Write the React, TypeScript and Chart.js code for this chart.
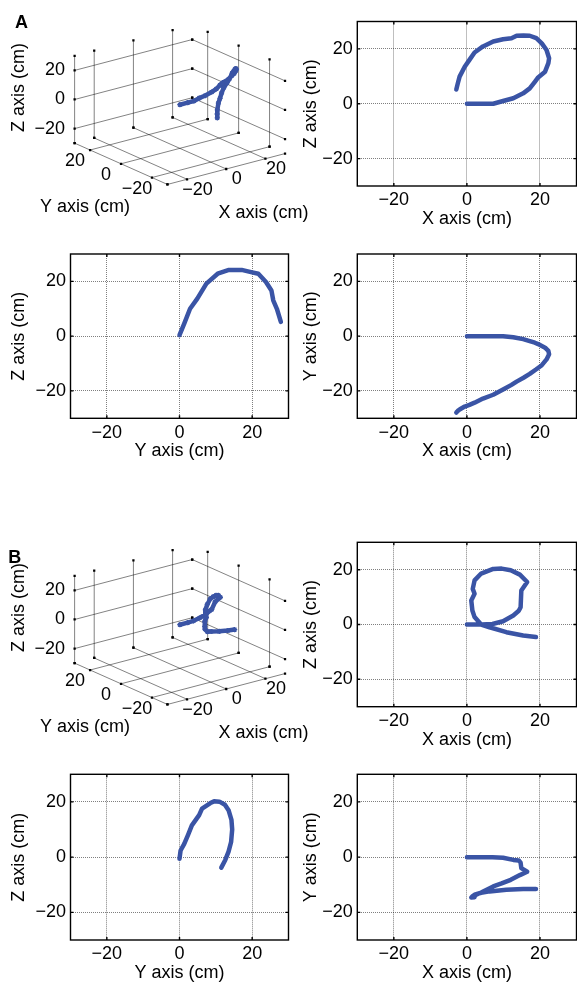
import React, { useEffect, useRef } from 'react';
import { Chart, registerables } from 'chart.js';

Chart.register(...registerables);

const FONT = '"Liberation Sans", Arial, Helvetica, sans-serif';
const FONT_SIZE = 18;
Chart.defaults.font.family = FONT;
Chart.defaults.font.size = FONT_SIZE;
Chart.defaults.color = '#000';

// ---------------- data ----------------
const AXIS_TICKS = [-20, 0, 20];
const AXIS_LIMIT = 30;
const TITLE_X = 'X axis (cm)';
const TITLE_Y = 'Y axis (cm)';
const TITLE_Z = 'Z axis (cm)';

// Panel A trajectory (cm)
const A_X = [0, 4, 7.2, 9.9, 12.7, 15.4, 17.2, 18.6, 19.5, 21.4, 22.3, 22.5, 21.8, 20.5, 19, 17.2, 15.5, 13.6, 12.2, 9.9, 7.2, 4.4, 2.1, 0.7, -0.6, -2, -2.5, -2.9];
const A_Y = [0, 0, 0, 0, -0.4, -1.1, -1.8, -2.4, -2.9, -4.2, -5.4, -6.6, -8.5, -10.6, -12.1, -13.8, -15.2, -16.6, -17.8, -19.5, -21.4, -22.8, -24.3, -25.1, -25.7, -26.8, -27.3, -27.9];
const A_Z = [0, 0, 0, 1, 2, 3.8, 5.6, 8, 9.6, 11.7, 14.8, 16.6, 19.6, 22, 23.9, 24.8, 24.9, 24.8, 23.9, 23.5, 22.7, 20.9, 18.7, 16, 13.5, 9.9, 7.4, 5.2];
// Panel A, Y–Z view (as drawn)
const A_YZ_Y = [0, 1.3, 2.9, 4.9, 7.4, 10.5, 13.6, 17.1, 19.7, 21.7, 23.8, 25.3, 25.8, 26.8, 27.9];
const A_YZ_Z = [0.4, 4.6, 10, 13.7, 19.2, 22.8, 24.2, 24.2, 23.4, 22.8, 19.8, 16.7, 13.1, 10, 5.2];

// Panel B trajectory (cm)
const B_X = [0, 4, 7, 9.9, 12.7, 14.2, 14.7, 14.9, 16.5, 14.5, 12, 9.5, 7.2, 3.9, 2.1, 1.6, 2.1, 1.2, 1.5, 2.1, 3.9, 6.2, 10.8, 15.4, 18.9];
const B_Y = [0, 0, 0, -0.2, -1, -1.2, -2, -4, -5.3, -6.5, -8.2, -9.5, -10.6, -12.8, -13.9, -14.4, -14.5, -14.6, -14.2, -13.6, -12.9, -12.4, -11.8, -11.5, -11.5];
const B_Z = [0, 0, 0.2, 1.2, 3.3, 5, 6.3, 12.4, 15.5, 18.2, 19.8, 20.4, 20.3, 18.6, 16.1, 13, 11.2, 8.8, 5.1, 2.7, 0, -1, -2.8, -4, -4.6];
// Panel B, Y–Z view (as drawn)
const B_YZ_Y = [0, 0.3, 1.3, 2.3, 3.4, 5.4, 6.2, 8.5, 9.5, 11, 12.5, 13.5, 14.3, 14.5, 14.2, 13.5, 12.6, 11.5];
const B_YZ_Z = [-0.6, 2.4, 4.8, 7.9, 11.5, 15.2, 17.6, 19.6, 20.2, 20.1, 19, 17, 13.5, 10, 5.5, 2, -1, -3.8];

// ---------------- styles / layout ----------------
const BLUE = '#3a54a5';
const GRID_COLOR = 'rgba(0,0,0,0.5)';
const GRID3D_COLOR = 'rgba(0,0,0,0.55)';
const LINE_H = FONT_SIZE * 1.2;
const X_TITLE_GAP = 33;
const X_TICK_PAD = 3.5;
const Y_TICK_PAD = 4.5;
const INNER_TICK = 3;

const COLS: any = {
  left: { canvasLeft: 0, canvasRight: 290, boxLeft: 70.5, boxRight: 288.5, titleX: 19 },
  right: { canvasLeft: 290, canvasRight: 577, boxLeft: 357.3, boxRight: 576.5, titleX: 311 },
};
const ROWS: any = {
  a1: { top: 21.5, bottom: 186 },
  a2: { top: 254, bottom: 418.3 },
  b1: { top: 542.3, bottom: 706.7 },
  b2: { top: 774.3, bottom: 940 },
};

// 3-D view: screen offset of the origin and screen vectors of one unit on each axis
const VIEW = { cx: 180.5, cy: 104, ex: [2.027, -0.538], ey: [-1.6, -0.72], ez: [0, -1.522] };
const FIG3D = { width: 320, height: 240 };
const LBL3D = {
  zTickDx: -9.7,
  yTick: [-15, 11],
  xTick: [10.5, 10.3],
  xTitle: [218.5, 213],
  yTitle: [40, 207],
  zTitle: [19, 87.5],
};

const fmt = (v: number) => (v < 0 ? '\u2212' + Math.abs(v) : String(v));

function project(x: number, y: number, z: number) {
  return {
    x: VIEW.cx + x * VIEW.ex[0] + y * VIEW.ey[0] + z * VIEW.ez[0],
    y: VIEW.cy + x * VIEW.ex[1] + y * VIEW.ey[1] + z * VIEW.ez[1],
  };
}

const boxPlugin = {
  id: 'matlabBox',
  afterDraw(chart: any) {
    const { ctx, chartArea: a, scales } = chart;
    ctx.save();
    ctx.strokeStyle = '#000';
    ctx.lineWidth = 1.4;
    ctx.setLineDash([]);
    ctx.strokeRect(a.left, a.top, a.right - a.left, a.bottom - a.top);
    ctx.beginPath();
    scales.x.ticks.forEach((t: any) => {
      const px = scales.x.getPixelForValue(t.value);
      ctx.moveTo(px, a.bottom);
      ctx.lineTo(px, a.bottom - INNER_TICK);
      ctx.moveTo(px, a.top);
      ctx.lineTo(px, a.top + INNER_TICK);
    });
    scales.y.ticks.forEach((t: any) => {
      const py = scales.y.getPixelForValue(t.value);
      ctx.moveTo(a.left, py);
      ctx.lineTo(a.left + INNER_TICK, py);
      ctx.moveTo(a.right, py);
      ctx.lineTo(a.right - INNER_TICK, py);
    });
    ctx.stroke();
    ctx.restore();
  },
};

function Panel2D({ col, row, xs, ys, xTitle, yTitle }: any) {
  const ref = useRef<HTMLCanvasElement | null>(null);
  const c = COLS[col];
  const r = ROWS[row];
  const canvasTop = Math.floor(r.top - 16);
  const xAxisH = X_TITLE_GAP + LINE_H / 2;
  const canvasH = Math.ceil(r.bottom + xAxisH + 4 - canvasTop);
  const canvasW = c.canvasRight - c.canvasLeft;

  useEffect(() => {
    if (!ref.current) return;
    const yAxisW = c.boxLeft - (c.titleX - LINE_H / 2);
    const padding = {
      left: c.titleX - LINE_H / 2 - c.canvasLeft,
      right: c.canvasRight - c.boxRight,
      top: r.top - canvasTop,
      bottom: canvasTop + canvasH - (r.bottom + xAxisH),
    };
    const axisCommon = (title: string) => ({
      type: 'linear',
      min: AXIS_MIN_MAX[0],
      max: AXIS_MIN_MAX[1],
      afterBuildTicks: (s: any) => {
        s.ticks = AXIS_TICKS.map((v) => ({ value: v }));
      },
      grid: { color: GRID_COLOR, lineWidth: 1, drawTicks: false },
      border: { display: false, dash: [1, 1] },
      title: { display: true, text: title, padding: 0, color: '#000', font: { size: FONT_SIZE, lineHeight: 1.2 } },
    });
    const chart = new Chart(ref.current, {
      type: 'scatter',
      data: {
        datasets: [
          {
            data: xs.map((x: number, i: number) => ({ x, y: ys[i] })),
            showLine: true,
            borderColor: BLUE,
            backgroundColor: BLUE,
            borderWidth: 4.5,
            pointRadius: 0,
            tension: 0,
            borderJoinStyle: 'round',
            borderCapStyle: 'round',
          },
        ],
      },
      options: {
        responsive: false,
        animation: false,
        devicePixelRatio: 1,
        layout: { padding },
        plugins: { legend: { display: false }, tooltip: { enabled: false } },
        scales: {
          x: {
            ...axisCommon(xTitle),
            position: 'bottom',
            afterFit: (s: any) => {
              s.height = xAxisH;
            },
            ticks: { padding: X_TICK_PAD, callback: (v: any) => fmt(Number(v)), autoSkip: false, maxRotation: 0, minRotation: 0, color: '#000', font: { size: FONT_SIZE, lineHeight: 1.2 } },
          },
          y: {
            ...axisCommon(yTitle),
            position: 'left',
            afterFit: (s: any) => {
              s.width = yAxisW;
            },
            ticks: { padding: Y_TICK_PAD, callback: (v: any) => fmt(Number(v)), autoSkip: false, color: '#000', font: { size: FONT_SIZE, lineHeight: 1.2 } },
          },
        },
      } as any,
      plugins: [boxPlugin],
    } as any);
    return () => chart.destroy();
  }, []);

  return (
    <canvas
      ref={ref}
      width={canvasW}
      height={canvasH}
      style={{ position: 'absolute', left: c.canvasLeft, top: canvasTop, width: canvasW, height: canvasH }}
    />
  );
}

const AXIS_MIN_MAX = [-AXIS_LIMIT, AXIS_LIMIT];

const text3DPlugin = {
  id: 'text3d',
  afterDraw(chart: any, _args: any, opts: any) {
    const { ctx, scales } = chart;
    const L = AXIS_LIMIT;
    const px = (p: { x: number; y: number }) => ({ x: scales.x.getPixelForValue(p.x), y: scales.y.getPixelForValue(p.y) });
    ctx.save();
    ctx.fillStyle = '#000';
    ctx.font = `${FONT_SIZE}px ${FONT}`;
    ctx.textBaseline = 'middle';
    AXIS_TICKS.forEach((t) => {
      let p = px(project(-L, L, t));
      ctx.textAlign = 'right';
      ctx.fillText(fmt(t), p.x + LBL3D.zTickDx, p.y);
      ctx.textAlign = 'center';
      p = px(project(-L, t, -L));
      ctx.fillText(fmt(t), p.x + LBL3D.yTick[0], p.y + LBL3D.yTick[1]);
      p = px(project(t, -L, -L));
      ctx.fillText(fmt(t), p.x + LBL3D.xTick[0], p.y + LBL3D.xTick[1]);
    });
    ctx.textAlign = 'left';
    ctx.fillText(TITLE_X, LBL3D.xTitle[0], LBL3D.xTitle[1]);
    ctx.fillText(TITLE_Y, LBL3D.yTitle[0], LBL3D.yTitle[1]);
    ctx.save();
    ctx.translate(LBL3D.zTitle[0], LBL3D.zTitle[1]);
    ctx.rotate(-Math.PI / 2);
    ctx.textAlign = 'center';
    ctx.fillText(TITLE_Z, 0, 0);
    ctx.restore();
    ctx.font = `bold ${FONT_SIZE}px ${FONT}`;
    ctx.textBaseline = 'alphabetic';
    ctx.textAlign = 'left';
    ctx.fillText(opts.letter, opts.letterPos[0], opts.letterPos[1]);
    ctx.restore();
  },
};

function Plot3D({ top, xs, ys, zs, letter, letterPos }: any) {
  const ref = useRef<HTMLCanvasElement | null>(null);
  useEffect(() => {
    if (!ref.current) return;
    const L = AXIS_LIMIT;
    const seg = (a: number[], b: number[]) => [project(a[0], a[1], a[2]), project(b[0], b[1], b[2])];
    const lines: any[] = [];
    AXIS_TICKS.forEach((t) => {
      lines.push(seg([t, L, -L], [t, L, L]));
      lines.push(seg([-L, L, t], [L, L, t]));
      lines.push(seg([L, t, -L], [L, t, L]));
      lines.push(seg([L, L, t], [L, -L, t]));
      lines.push(seg([t, -L, -L], [t, L, -L]));
      lines.push(seg([-L, t, -L], [L, t, -L]));
    });
    lines.push(seg([-L, L, -L], [-L, L, L]));
    lines.push(seg([-L, -L, -L], [-L, L, -L]));
    lines.push(seg([-L, -L, -L], [L, -L, -L]));
    const traj = xs.map((x: number, i: number) => project(x, ys[i], zs[i]));
    const datasets: any[] = [
      {
        data: traj,
        showLine: true,
        borderColor: BLUE,
        borderWidth: 4.5,
        pointRadius: 2.6,
        pointStyle: 'star',
        pointBorderColor: BLUE,
        pointBackgroundColor: BLUE,
        pointBorderWidth: 1.3,
        tension: 0,
        borderJoinStyle: 'round',
      },
      ...lines.map((l) => ({
        data: l,
        showLine: true,
        borderColor: GRID3D_COLOR,
        borderWidth: 0.9,
        pointRadius: 1.6,
        pointStyle: 'rect',
        pointBackgroundColor: '#000',
        pointBorderWidth: 0,
      })),
    ];
    const chart = new Chart(ref.current, {
      type: 'scatter',
      data: { datasets },
      options: {
        responsive: false,
        animation: false,
        devicePixelRatio: 1,
        layout: { padding: 0 },
        plugins: { legend: { display: false }, tooltip: { enabled: false }, text3d: { letter, letterPos } },
        scales: {
          x: { type: 'linear', display: false, min: 0, max: FIG3D.width },
          y: { type: 'linear', display: false, min: 0, max: FIG3D.height, reverse: true },
        },
      } as any,
      plugins: [text3DPlugin],
    } as any);
    return () => chart.destroy();
  }, []);
  return (
    <canvas
      ref={ref}
      width={FIG3D.width}
      height={FIG3D.height}
      style={{ position: 'absolute', left: 0, top, width: FIG3D.width, height: FIG3D.height }}
    />
  );
}

export default function App() {
  return (
    <div style={{ position: 'absolute', left: 0, top: 0, width: 577, height: 984, background: '#fff', overflow: 'hidden' }}>
      <Plot3D top={0} xs={A_X} ys={A_Y} zs={A_Z} letter="A" letterPos={[15, 28.3]} />
      <Panel2D col="right" row="a1" xs={A_X} ys={A_Z} xTitle={TITLE_X} yTitle={TITLE_Z} />
      <Panel2D col="left" row="a2" xs={A_YZ_Y} ys={A_YZ_Z} xTitle={TITLE_Y} yTitle={TITLE_Z} />
      <Panel2D col="right" row="a2" xs={A_X} ys={A_Y} xTitle={TITLE_X} yTitle={TITLE_Y} />
      <Plot3D top={520} xs={B_X} ys={B_Y} zs={B_Z} letter="B" letterPos={[8.3, 43.3]} />
      <Panel2D col="right" row="b1" xs={B_X} ys={B_Z} xTitle={TITLE_X} yTitle={TITLE_Z} />
      <Panel2D col="left" row="b2" xs={B_YZ_Y} ys={B_YZ_Z} xTitle={TITLE_Y} yTitle={TITLE_Z} />
      <Panel2D col="right" row="b2" xs={B_X} ys={B_Y} xTitle={TITLE_X} yTitle={TITLE_Y} />
    </div>
  );
}
